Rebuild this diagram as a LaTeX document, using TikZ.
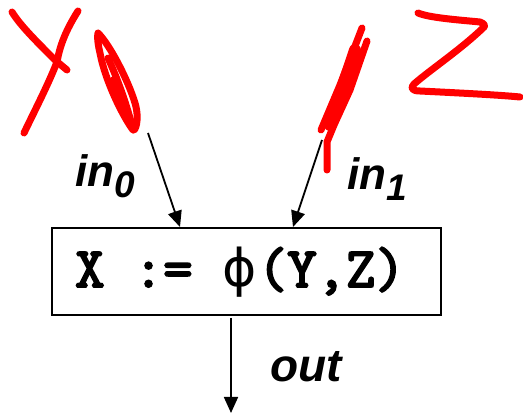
\documentclass[tikz,border=0pt]{standalone}
\usepackage{fontspec}
\setmainfont{Liberation Sans}
\newfontfamily\phifont{DejaVu Sans}
\newfontfamily\codefont[FakeBold=3.5]{Latin Modern Mono}
\usetikzlibrary{arrows.meta}
\tikzset{
  ink/.style={red, line width=7pt, line cap=round, line join=round},
  conn/.style={line width=1.8pt, -{Triangle[length=16pt,width=14pt]}},
  lbl/.style={inner sep=0pt, anchor=base west, font=\fontsize{44}{44}\selectfont\bfseries\itshape},
  boxstyle/.style={draw, line width=2pt, minimum width=389pt, minimum height=87pt, inner sep=0pt},
}
\begin{document}
\begin{tikzpicture}[x=1pt,y=-1pt]
\useasboundingbox (0,0) rectangle (523,414);
% handwritten red annotations
\draw[ink] (78,11) .. controls (66,30) and (60,45) .. (57,62) .. controls (48,85) and (35,110) .. (24,133);
\draw[ink] (12,12) .. controls (20,25) and (35,40) .. (55,60) -- (67,70);
\draw[ink] (98,33) .. controls (110,45) and (128,80) .. (135,103) .. controls (140,120) and (135,132) .. (133,130) .. controls (122,115) and (105,80) .. (100,53) .. controls (98,45) and (97,36) .. (98,33);
\draw[ink] (108,58) .. controls (118,80) and (125,100) .. (132,125);
\draw[ink] (113,80) -- (128,112);
\draw[ink] (362,28) -- (340,85) -- (321,130);
\draw[ink] (367,41) -- (350,90) -- (334,125) -- (327,142) -- (327,170);
\draw[ink, line width=12pt] (355,50) -- (330,125);
\draw[ink] (418,13) .. controls (430,18) and (460,20) .. (480,22) .. controls (486,24) and (485,27) .. (483,28) .. controls (460,50) and (430,70) .. (414,84) .. controls (410,88) and (412,91) .. (420,91) .. controls (460,93) and (500,95) .. (520,97);
% box and text
\node[boxstyle] (box) at (246.5,271.5) {};
\node[inner sep=0pt, anchor=base west, font=\codefont\fontsize{57}{57}\selectfont] (expr) at (75,287) {X := \makebox[36pt]{\phifont\fontsize{52}{52}\selectfont ϕ}(Y,Z)};
% connectors
\coordinate (s0) at (148,133);
\coordinate (e0) at (180,227);
\coordinate (s1) at (322,140);
\coordinate (e1) at (293,227);
\coordinate (s2) at (231,318);
\coordinate (e2) at (231,413);
\draw[conn] (s0) -- (e0);
\draw[conn] (s1) -- (e1);
\draw[conn] (s2) -- (e2);
% labels
\node[lbl] (in0) at (75,187) {in\raisebox{-11pt}{\fontsize{37}{37}\selectfont 0}};
\node[lbl] (in1) at (347,190) {in\raisebox{-11pt}{\fontsize{37}{37}\selectfont 1}};
\node[lbl, font=\fontsize{46}{46}\selectfont\bfseries\itshape] (out) at (270,382) {out};
\end{tikzpicture}
\end{document}
